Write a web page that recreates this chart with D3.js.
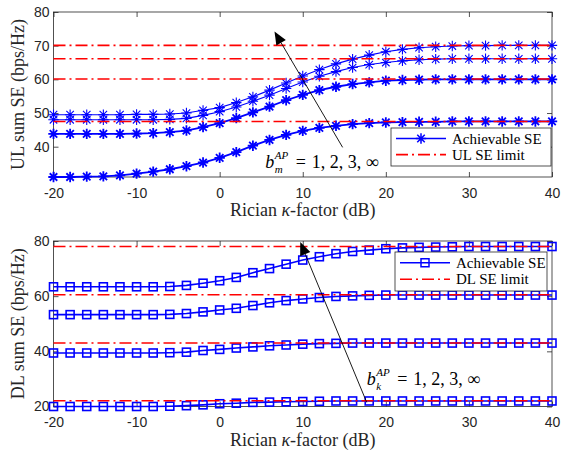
<!DOCTYPE html>
<html>
<head>
<meta charset="utf-8">
<script src="https://cdn.jsdelivr.net/npm/d3@7"></script>
<style>
  body { margin: 0; background: #ffffff; }
</style>
</head>
<body>
<div id="chart"></div>
<script>
// Rician kappa-factor grid (dB)
const kappaDb = [-20, -18, -16, -14, -12, -10, -8, -6, -4, -2, 0, 2, 4, 6, 8, 10,
  12, 14, 16, 18, 20, 22, 24, 26, 28, 30, 32, 34, 36, 38, 40];

// UL achievable sum SE, b_m^AP = inf, 3, 2, 1
const ulSeInf = [49.5, 49.5, 49.5, 49.5, 49.5, 49.6, 49.6, 49.7, 50.0, 50.8, 51.6, 53.1, 54.8, 56.8, 58.9, 61.0,
  62.9, 64.6, 66.0, 67.2, 68.2, 68.9, 69.4, 69.7, 69.9, 70.0, 70.0, 70.1, 70.1, 70.1, 70.1];
const ulSe3 = [48.0, 48.0, 48.0, 48.0, 48.0, 48.0, 48.0, 48.1, 48.4, 49.3, 50.4, 51.8, 53.5, 55.3, 57.3, 59.2,
  60.9, 62.3, 63.5, 64.4, 65.0, 65.5, 65.8, 66.0, 66.1, 66.1, 66.1, 66.1, 66.1, 66.1, 66.1];
const ulSe2 = [43.8, 43.8, 43.8, 43.8, 43.8, 43.9, 44.0, 44.3, 44.8, 45.8, 47.0, 48.5, 50.2, 51.9, 53.8, 55.4,
  56.8, 57.8, 58.6, 59.1, 59.6, 59.8, 59.9, 60.0, 60.0, 60.0, 60.0, 60.0, 60.0, 60.0, 60.0];
const ulSe1 = [31.0, 31.0, 31.1, 31.2, 31.5, 32.0, 32.6, 33.3, 34.2, 35.3, 36.7, 38.4, 40.3, 42.0, 43.5, 44.7,
  45.6, 46.2, 46.7, 47.0, 47.2, 47.3, 47.4, 47.4, 47.5, 47.5, 47.5, 47.5, 47.5, 47.5, 47.5];
const ulLimits = [70.1, 66.1, 60.1, 47.5];

// DL achievable sum SE, b_k^AP = inf, 3, 2, 1
const dlSeInf = [63.4, 63.4, 63.4, 63.4, 63.4, 63.4, 63.4, 63.5, 63.9, 64.7, 65.6, 66.8, 68.5, 70.0, 71.6, 73.1,
  74.3, 75.4, 76.2, 76.7, 77.2, 77.5, 77.7, 77.8, 77.9, 78.0, 78.0, 78.0, 78.0, 78.0, 78.0];
const dlSe3 = [53.3, 53.3, 53.3, 53.3, 53.3, 53.3, 53.3, 53.4, 53.7, 54.3, 55.0, 55.6, 56.6, 57.6, 58.4, 59.0,
  59.5, 59.9, 60.1, 60.3, 60.4, 60.4, 60.4, 60.4, 60.4, 60.4, 60.4, 60.4, 60.4, 60.4, 60.4];
const dlSe2 = [39.4, 39.4, 39.4, 39.4, 39.4, 39.4, 39.4, 39.5, 39.7, 40.3, 40.7, 41.2, 41.6, 42.0, 42.3, 42.6,
  42.8, 42.9, 43.0, 43.0, 43.0, 43.0, 43.0, 43.0, 43.0, 43.0, 43.0, 43.0, 43.0, 43.0, 43.0];
const dlSe1 = [20.0, 20.0, 20.0, 20.0, 20.0, 20.0, 20.0, 20.1, 20.3, 20.6, 21.0, 21.2, 21.5, 21.6, 21.7, 21.8,
  21.9, 22.0, 22.0, 22.0, 22.0, 22.0, 22.0, 22.0, 22.0, 22.0, 22.0, 22.0, 22.0, 22.0, 22.0];
const dlLimits = [78.0, 60.5, 43.0, 22.1];

// Axis ticks
const xTicks = [-20, -10, 0, 10, 20, 30, 40];
const ulYTicks = [40, 50, 60, 70, 80];
const dlYTicks = [20, 40, 60, 80];

const width = 561;
const height = 451;
const blue = "#0000ff";
const red = "#ff0000";
const axisColor = "#262626";
const serif = "'Liberation Serif', 'Times New Roman', serif";
const sans = "'Liberation Sans', Arial, sans-serif";

const svg = d3.select("#chart")
  .append("svg")
  .attr("width", width)
  .attr("height", height);

svg.append("rect").attr("width", width).attr("height", height).attr("fill", "#ffffff");

const xScale = d3.scaleLinear().domain([-20, 40]).range([53.5, 552]);

function asteriskPath(r) {
  const d = r * 0.72;
  return `M${-r},0H${r}M0,${-r}V${r}M${-d},${-d}L${d},${d}M${-d},${d}L${d},${-d}`;
}

function drawMarker(g, type, x, y, sw) {
  if (type === "asterisk") {
    g.append("path")
      .attr("d", asteriskPath(5.2))
      .attr("transform", `translate(${x},${y})`)
      .attr("stroke", blue)
      .attr("stroke-width", sw)
      .attr("fill", "none");
  } else {
    g.append("rect")
      .attr("x", x - 4).attr("y", y - 4)
      .attr("width", 8).attr("height", 8)
      .attr("stroke", blue)
      .attr("stroke-width", sw)
      .attr("fill", "none");
  }
}

function drawPanel(p) {
  const y = d3.scaleLinear().domain(p.yDomain).range([p.bottom, p.top]);
  const g = svg.append("g");
  const x0 = xScale.range()[0], x1 = xScale.range()[1];
  const fmt = (d) => String(d);

  // axes (ticks inward, box on)
  const bottomAxis = g.append("g")
    .attr("transform", `translate(0,${p.bottom})`)
    .call(d3.axisBottom(xScale).tickValues(xTicks).tickSize(-5).tickPadding(11).tickFormat(fmt));
  const topAxis = g.append("g")
    .attr("transform", `translate(0,${p.top})`)
    .call(d3.axisTop(xScale).tickValues(xTicks).tickSize(-5).tickFormat(""));
  const leftAxis = g.append("g")
    .attr("transform", `translate(${x0},0)`)
    .call(d3.axisLeft(y).tickValues(p.yTicks).tickSize(-5).tickPadding(4).tickFormat(fmt));
  const rightAxis = g.append("g")
    .attr("transform", `translate(${x1},0)`)
    .call(d3.axisRight(y).tickValues(p.yTicks).tickSize(-5).tickFormat(""));

  [bottomAxis, topAxis, leftAxis, rightAxis].forEach((a) => {
    a.select(".domain").remove();
    a.selectAll("line").attr("stroke", axisColor).attr("stroke-width", 0.8);
    a.selectAll("text")
      .attr("fill", axisColor)
      .style("font-family", sans)
      .style("font-size", "14px");
  });

  g.append("rect")
    .attr("x", x0).attr("y", p.top)
    .attr("width", x1 - x0).attr("height", p.bottom - p.top)
    .attr("fill", "none")
    .attr("stroke", axisColor)
    .attr("stroke-width", 0.8);

  // achievable SE curves
  const line = d3.line().x((d, i) => xScale(kappaDb[i])).y((d) => y(d));
  p.series.forEach((s, k) => {
    const lw = p.lineWidths[k];
    g.append("path")
      .datum(s)
      .attr("d", line)
      .attr("fill", "none")
      .attr("stroke", blue)
      .attr("stroke-width", lw);
    const mg = g.append("g");
    s.forEach((v, i) => drawMarker(mg, p.marker, xScale(kappaDb[i]), y(v), lw));
  });

  // SE limits
  p.limits.forEach((v) => {
    g.append("line")
      .attr("x1", x0).attr("x2", x1)
      .attr("y1", y(v)).attr("y2", y(v))
      .attr("stroke", red)
      .attr("stroke-width", 1.6)
      .attr("stroke-dasharray", "12,4,2,4");
  });

  // axis labels
  g.append("text")
    .attr("transform", `translate(24,${(p.top + p.bottom) / 2}) rotate(-90)`)
    .attr("text-anchor", "middle")
    .attr("fill", axisColor)
    .style("font-family", serif)
    .style("font-size", "18px")
    .text(p.yLabel);

  const xl = g.append("text")
    .attr("x", (x0 + x1) / 2)
    .attr("y", p.bottom + 39)
    .attr("text-anchor", "middle")
    .attr("fill", axisColor)
    .style("font-family", serif)
    .style("font-size", "18px");
  xl.append("tspan").text("Rician ");
  xl.append("tspan").attr("font-style", "italic").text("κ");
  xl.append("tspan").text("-factor (dB)");

  // arrow with annotation
  const ax1 = xScale(p.arrow[0]), ay1 = y(p.arrow[1]);
  const ax2 = xScale(p.arrow[2]), ay2 = y(p.arrow[3]);
  const ang = Math.atan2(ay2 - ay1, ax2 - ax1);
  const headLen = 13, headW = 5.5;
  const bx = ax2 - headLen * Math.cos(ang), by = ay2 - headLen * Math.sin(ang);
  g.append("line")
    .attr("x1", ax1).attr("y1", ay1).attr("x2", bx).attr("y2", by)
    .attr("stroke", "#000").attr("stroke-width", 0.9);
  g.append("path")
    .attr("d", `M${ax2},${ay2}L${bx + headW * Math.sin(ang)},${by - headW * Math.cos(ang)}L${bx - headW * Math.sin(ang)},${by + headW * Math.cos(ang)}Z`)
    .attr("fill", "#000");

  // b^{AP}_{m|k} = 1, 2, 3, inf as one text element
  const tx = xScale(p.note[0]), ty = y(p.note[1]);
  const t = g.append("text")
    .attr("x", tx).attr("y", ty)
    .attr("fill", "#000")
    .style("font-family", serif)
    .style("font-size", "18px");
  t.append("tspan").attr("font-style", "italic").text("b");
  const bEnd = tx + 9.5;
  t.append("tspan").attr("x", bEnd).attr("dy", -8.5)
    .attr("font-style", "italic").style("font-size", "11px").text("AP");
  t.append("tspan").attr("x", bEnd).attr("dy", 13.5)
    .attr("font-style", "italic").style("font-size", "11px").text(p.subscript);
  t.append("tspan").attr("x", bEnd + 21).attr("dy", -5).text("=");
  t.append("tspan").attr("x", bEnd + 37).text("1, 2, 3, \u221E");

  // legend
  const L = p.legend;
  const lg = g.append("g");
  lg.append("rect")
    .attr("x", L.x).attr("y", L.y).attr("width", L.w).attr("height", L.h)
    .attr("fill", "#ffffff").attr("stroke", axisColor).attr("stroke-width", 0.8);
  const row1 = L.y + L.h * 0.25 + 1, row2 = L.y + L.h * 0.7;
  lg.append("line")
    .attr("x1", L.x + 5).attr("x2", L.x + 55).attr("y1", row1).attr("y2", row1)
    .attr("stroke", blue).attr("stroke-width", 1.5);
  drawMarker(lg, p.marker, L.x + 30, row1, 1.5);
  lg.append("line")
    .attr("x1", L.x + 5).attr("x2", L.x + 55).attr("y1", row2).attr("y2", row2)
    .attr("stroke", red).attr("stroke-width", 1.6).attr("stroke-dasharray", "12,4,2,4");
  [[row1, "Achievable SE"], [row2, p.limitLabel]].forEach(([ry, label]) => {
    lg.append("text")
      .attr("x", L.x + 61).attr("y", ry + 5)
      .attr("fill", "#000")
      .style("font-family", serif)
      .style("font-size", "15px")
      .text(label);
  });
}

drawPanel({
  top: 12, bottom: 177,
  yDomain: [31, 80], yTicks: ulYTicks,
  series: [ulSeInf, ulSe3, ulSe2, ulSe1],
  lineWidths: [1.1, 1.1, 1.8, 1.8],
  limits: ulLimits,
  marker: "asterisk",
  yLabel: "UL sum SE (bps/Hz)",
  limitLabel: "UL SE limit",
  arrow: [14.8, 39.8, 6.6, 74.2],
  note: [5.5, 33.8],
  subscript: "m",
  legend: { x: 391, y: 128, w: 160, h: 38 }
});

drawPanel({
  top: 241, bottom: 406.5,
  yDomain: [20, 80], yTicks: dlYTicks,
  series: [dlSeInf, dlSe3, dlSe2, dlSe1],
  lineWidths: [1.6, 1.6, 1.6, 1.6],
  limits: dlLimits,
  marker: "square",
  yLabel: "DL sum SE (bps/Hz)",
  limitLabel: "DL SE limit",
  arrow: [17.7, 21.5, 9.7, 79.6],
  note: [17.7, 27.9],
  subscript: "k",
  legend: { x: 395, y: 252, w: 152, h: 39 }
});
</script>
</body>
</html>
